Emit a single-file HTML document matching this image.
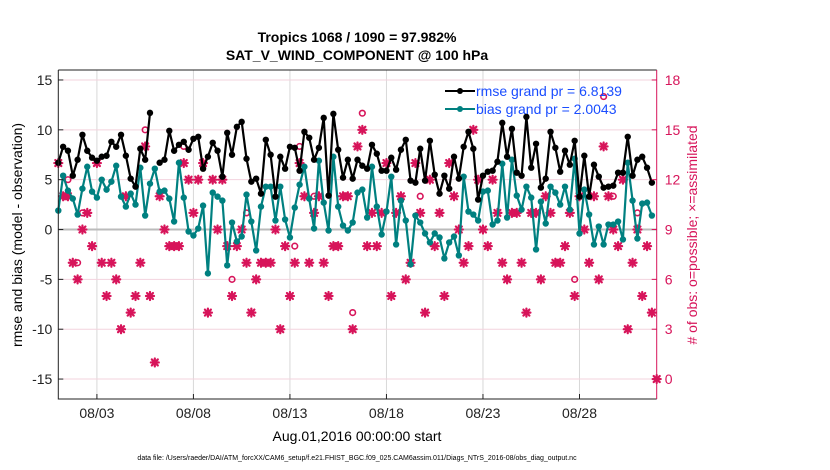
<!DOCTYPE html>
<html><head><meta charset="utf-8"><style>
body{margin:0;background:#fff;}
svg{display:block;font-family:"Liberation Sans",Arial,sans-serif;}
</style></head><body>
<svg id="chart" width="830" height="470" viewBox="0 0 830 470" xmlns="http://www.w3.org/2000/svg">
<rect width="830" height="470" fill="#fff"/>
<g id="grid"></g>
<g id="marks"></g>
<g id="axes"></g>
<text x="357" y="42" text-anchor="middle" font-size="14" font-weight="bold">Tropics 1068 / 1090 = 97.982%</text>
<text x="357" y="60" text-anchor="middle" font-size="14" font-weight="bold">SAT_V_WIND_COMPONENT @ 100 hPa</text>
<text transform="translate(22,235) rotate(-90)" text-anchor="middle" font-size="14">rmse and bias (model - observation)</text>
<text transform="translate(697,235) rotate(-90)" text-anchor="middle" font-size="14" fill="#d7145a"># of obs: o=possible; ×=assimilated</text>
<text x="357" y="441" text-anchor="middle" font-size="14">Aug.01,2016 00:00:00 start</text>
<text x="357" y="460" text-anchor="middle" font-size="7">data file: /Users/raeder/DAI/ATM_forcXX/CAM6_setup/f.e21.FHIST_BGC.f09_025.CAM6assim.011/Diags_NTrS_2016-08/obs_diag_output.nc</text>
<g>
<line x1="445" y1="91" x2="475" y2="91" stroke="#000" stroke-width="2"/><circle cx="460" cy="91" r="3" fill="#000"/>
<text x="476" y="96" font-size="14" fill="#1a4dff">rmse grand pr = 6.8139</text>
<line x1="445" y1="109" x2="475" y2="109" stroke="#008080" stroke-width="2"/><circle cx="460" cy="109" r="3" fill="#008080"/>
<text x="476" y="114" font-size="14" fill="#1a4dff">bias grand pr = 2.0043</text>
</g>
</svg>
<script>
const rmse=[6.7,8.3,7.9,5.4,7.0,9.5,7.9,7.2,6.9,7.3,7.4,8.8,8.3,9.5,7.4,5.1,4.3,8.1,7.0,11.7,null,6.7,7.0,9.9,7.9,8.5,8.8,8.0,9.1,9.3,6.1,7.3,8.7,7.9,5.3,9.7,7.5,10.3,10.8,7.1,4.8,5.1,3.6,
9.0,7.5,3.3,7.3,6.1,8.3,8.2,5.9,9.8,9.2,7.0,8.2,11.2,3.4,11.6,8.0,5.2,7.0,5.1,7.0,6.4,6.1,8.5,7.6,5.9,5.9,7.2,6.0,8.0,9.0,4.9,4.7,8.1,4.9,8.9,5.5,3.6,5.4,4.1,7.3,5.1,
8.3,9.8,8.1,3.0,5.4,5.8,5.9,6.8,10.7,7.3,10.1,5.7,5.4,11.3,6.2,8.6,4.2,5.1,9.8,8.2,5.8,7.9,6.5,8.9,3.3,7.4,3.3,6.5,5.3,4.2,4.3,4.4,5.7,5.7,9.3,5.4,7.0,7.3,6.2,4.7,null];
const bias=[1.9,5.4,3.9,3.1,1.5,4.1,6.3,3.8,3.2,5.0,4.0,4.8,6.4,3.3,2.3,3.6,2.5,6.2,1.4,4.6,6.1,3.8,3.9,3.1,0.8,6.7,3.2,-0.2,-0.6,0.1,2.4,-4.4,3.7,3.3,2.9,-3.6,0.7,-1.2,-0.7,3.5,0.8,-2.1,2.3,
4.3,4.3,0.9,4.3,1.0,-0.8,2.2,4.5,6.3,3.1,0.1,6.9,2.7,-0.1,7.3,2.3,0.4,-0.1,0.7,3.7,4.0,1.2,6.3,2.3,-0.5,1.8,5.3,-1.5,2.9,0.9,-3.5,1.4,0.7,-0.4,-1.3,-0.4,-0.8,-2.9,-1.3,-0.7,-2.6,
5.3,1.8,1.5,0.9,3.8,3.9,0.5,0.9,6.6,1.2,7.0,3.4,2.0,4.3,3.2,-2.0,2.8,0.6,4.3,3.7,2.5,4.3,2.0,7.1,-0.4,4.0,1.5,-1.5,0.3,-1.5,0.5,0.5,0.8,-1.0,6.7,2.9,-0.9,2.6,2.7,1.4,null];
const nUsed=[13,11,11,7,6,9,10,8,13,7,5,7,6,3,11,4,5,7,14,5,1,11,9,8,8,8,13,12,10,12,13,4,12,9,12,8,5,8,9,7,4,6,7,
7,7,9,3,8,5,7,13,11,7,10,11,7,5,8,8,11,11,3,14,15,8,10,8,10,13,5,10,11,6,7,13,10,4,12,8,10,5,13,11,9,
7,8,15,12,9,8,12,10,7,6,10,10,7,4,10,10,6,11,10,7,7,8,10,5,11,9,7,11,6,14,11,9,8,12,3,7,9,5,8,4,0];
const possIdx=[2,4,5,18,26,36,39,49,50,53,61,63,75,107,113,115,120];
const possVal=[12,7,10,15,14,6,10,8,14,11,4,16,11,6,17,11,10];
const xTicks=[2,7,12,17,22,27];
const xTickLabels=["08/03","08/08","08/13","08/18","08/23","08/28"];
const yTicks=[-15,-10,-5,0,5,10,15];
const y2Ticks=[0,3,6,9,12,15,18];

const L=58.3,R=656.7,T=70,B=399;
const X=d=>L+(d/31)*(R-L);
const Y=v=>B-(v+17)/33*(B-T);
const Y2=c=>Y(c*5/3-15);
const NS='http://www.w3.org/2000/svg';
function mk(tag,attrs,parent){const e=document.createElementNS(NS,tag);for(const k in attrs)e.setAttribute(k,attrs[k]);parent.appendChild(e);return e;}
const grid=document.getElementById('grid'),marks=document.getElementById('marks'),axes=document.getElementById('axes');
for(const t of xTicks){const g=mk('line',{x1:X(t),x2:X(t),y1:T,y2:B,stroke:'#d8d8d8','stroke-width':1},grid);
}
for(const c of y2Ticks){const g=mk('line',{x1:L,x2:R,y1:Y2(c),y2:Y2(c),stroke:'#f3d3de','stroke-width':1},grid);
}
const z=mk('line',{x1:L,x2:R,y1:Y(0),y2:Y(0),stroke:'#bbb','stroke-width':2},grid);

const col='#d7145a';
function star(x,y){const g=mk('g',{stroke:col,'stroke-width':2.2,'stroke-linecap':'round'},marks);

mk('line',{x1:x-4,x2:x+4,y1:y,y2:y},g);mk('line',{x1:x,x2:x,y1:y-4,y2:y+4},g);
mk('line',{x1:x-3,x2:x+3,y1:y-3,y2:y+3},g);mk('line',{x1:x-3,x2:x+3,y1:y+3,y2:y-3},g);}
nUsed.forEach((c,i)=>{if(c!=null)star(X(i*0.25),Y2(c));});
possIdx.forEach((i,k)=>{const o=mk('circle',{cx:X(i*0.25),cy:Y2(possVal[k]),r:2.8,fill:'none',stroke:col,'stroke-width':1.6},marks);
});
function series(arr,color,name){let d='',pen=false;
arr.forEach((v,i)=>{if(v==null){pen=false;return;}d+=(pen?'L':'M')+X(i*0.25).toFixed(1)+' '+Y(v).toFixed(1)+' ';pen=true;});
const p=mk('path',{d:d,fill:'none',stroke:color,'stroke-width':2.2,'stroke-linejoin':'round'},marks);

arr.forEach((v,i)=>{if(v==null)return;const c=mk('circle',{cx:X(i*0.25),cy:Y(v),r:3.2,fill:color},marks);
});}
series(bias,'#008080','bias');
series(rmse,'#000','rmse');
// axes
const fr=mk('path',{d:`M${L} ${T} L${L} ${B} L${R} ${B}`,fill:'none',stroke:'#222','stroke-width':1},axes);

const tp=mk('line',{x1:L,x2:R,y1:T,y2:T,stroke:'#222','stroke-width':1},axes);

const ra=mk('line',{x1:R,x2:R,y1:T,y2:B,stroke:col,'stroke-width':1},axes);

xTicks.forEach((t,k)=>{mk('line',{x1:X(t),x2:X(t),y1:B,y2:B-5,stroke:'#222'},axes);
const tx=mk('text',{x:X(t),y:B+19,'text-anchor':'middle','font-size':14,fill:'#222'},axes);tx.textContent=xTickLabels[k];
});
yTicks.forEach(t=>{mk('line',{x1:L,x2:L+5,y1:Y(t),y2:Y(t),stroke:'#222'},axes);
const tx=mk('text',{x:L-6,y:Y(t)+5,'text-anchor':'end','font-size':14,fill:'#222'},axes);tx.textContent=t;
});
y2Ticks.forEach(c=>{mk('line',{x1:R,x2:R-5,y1:Y2(c),y2:Y2(c),stroke:col},axes);
const tx=mk('text',{x:R+8,y:Y2(c)+5,'text-anchor':'start','font-size':14,fill:col},axes);tx.textContent=c;
});
</script>
</body></html>
